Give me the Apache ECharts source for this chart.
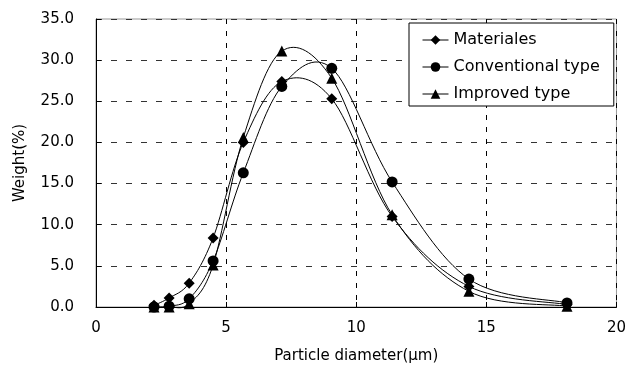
<!DOCTYPE html>
<html><head><meta charset="utf-8">
<script src="https://cdn.jsdelivr.net/npm/echarts@6/dist/echarts.min.js"></script>
<style>html,body{margin:0;padding:0;background:#fff}#c{width:629px;height:374px}</style>
</head><body><div id="c"></div>
<script>
const diameters = [2.23, 2.81, 3.58, 4.5, 5.66, 7.14, 9.06, 11.38, 14.33, 18.1];
const materiales = [0.2, 1.1, 2.9, 8.4, 20.0, 27.4, 25.3, 11.0, 2.5, 0.3];
const conventional = [0.0, 0.1, 1.0, 5.6, 16.3, 26.8, 29.0, 15.2, 3.4, 0.5];
const improved = [0.0, 0.0, 0.4, 5.1, 20.6, 31.1, 27.8, 11.2, 1.9, 0.1];
const seriesNames = ['Materiales', 'Conventional type', 'Improved type'];
const xTitle = 'Particle diameter(μm)';
const yTitle = 'Weight(%)';

const FONT = 'DejaVu Sans';
const chart = echarts.init(document.getElementById('c'), null, {renderer: 'canvas'});

// Smooth curve (Catmull-Rom style Bezier in pixel space) drawn via the axes' scales
function curve(vals) {
  return {
    type: 'custom', silent: true, z: 2,
    data: diameters.map((x, i) => [x, vals[i]]),
    encode: {x: 0, y: 1},
    renderItem: function (params, api) {
      const i = params.dataIndex;
      const n = diameters.length;
      if (i >= n - 1) return null;
      const P = k => api.coord([diameters[Math.max(0, Math.min(n - 1, k))], vals[Math.max(0, Math.min(n - 1, k))]]);
      const p0 = P(i - 1), p1 = P(i), p2 = P(i + 1), p3 = P(i + 2);
      const c1 = [p1[0] + (p2[0] - p0[0]) / 6, p1[1] + (p2[1] - p0[1]) / 6];
      const c2 = [p2[0] - (p3[0] - p1[0]) / 6, p2[1] - (p3[1] - p1[1]) / 6];
      return {
        type: 'bezierCurve',
        shape: {x1: p1[0], y1: p1[1], cpx1: c1[0], cpy1: c1[1], cpx2: c2[0], cpy2: c2[1], x2: p2[0], y2: p2[1]},
        style: {stroke: '#000', lineWidth: 1, fill: null}
      };
    }
  };
}
function marks(name, vals, symbol, size) {
  return {
    name: name, type: 'line', z: 3,
    data: diameters.map((x, i) => [x, vals[i]]),
    symbol: symbol, symbolSize: size,
    lineStyle: {color: '#000', width: 1, opacity: 0},
    itemStyle: {color: '#000'},
    emphasis: {disabled: true}
  };
}
chart.setOption({
  animation: false,
  textStyle: {fontFamily: FONT},
  grid: {left: 96, right: 12, top: 19, bottom: 67, show: true, borderColor: '#999', borderWidth: 1},
  legend: {
    orient: 'vertical', left: 409, top: 23,
    padding: [8, 14, 3, 13],
    itemGap: 9, itemWidth: 26, itemHeight: 12,
    backgroundColor: '#fff', borderColor: '#000', borderWidth: 1,
    lineStyle: {color: '#000', width: 1, opacity: 1},
    textStyle: {fontSize: 16, color: '#000', fontFamily: FONT, height: 18, lineHeight: 18},
    data: seriesNames
  },
  xAxis: {
    type: 'value', min: 0, max: 20, interval: 5,
    name: xTitle, nameLocation: 'middle', nameGap: 42,
    nameTextStyle: {fontSize: 15, color: '#000', fontFamily: FONT},
    axisLine: {lineStyle: {color: '#000', width: 1}},
    axisTick: {show: true, inside: true, length: 5, lineStyle: {color: '#000'}},
    axisLabel: {fontSize: 15, color: '#000', margin: 14},
    splitLine: {show: true, lineStyle: {color: '#000', type: [5, 7], width: 1}}
  },
  yAxis: {
    type: 'value', min: 0, max: 35, interval: 5,
    name: yTitle, nameLocation: 'middle', nameGap: 68, nameRotate: 90,
    nameTextStyle: {fontSize: 15, color: '#000', fontFamily: FONT},
    axisLine: {show: true, lineStyle: {color: '#000', width: 1}},
    axisTick: {show: true, inside: true, length: 5, lineStyle: {color: '#000'}},
    axisLabel: {fontSize: 15, color: '#000', margin: 22, formatter: v => v.toFixed(1)},
    splitLine: {show: true, lineStyle: {color: '#333', type: [6, 9], width: 1}}
  },
  series: [
    curve(materiales), curve(conventional), curve(improved),
    marks(seriesNames[0], materiales, 'diamond', 11),
    marks(seriesNames[1], conventional, 'circle', 11),
    marks(seriesNames[2], improved, 'triangle', 11)
  ]
});
</script></body></html>
